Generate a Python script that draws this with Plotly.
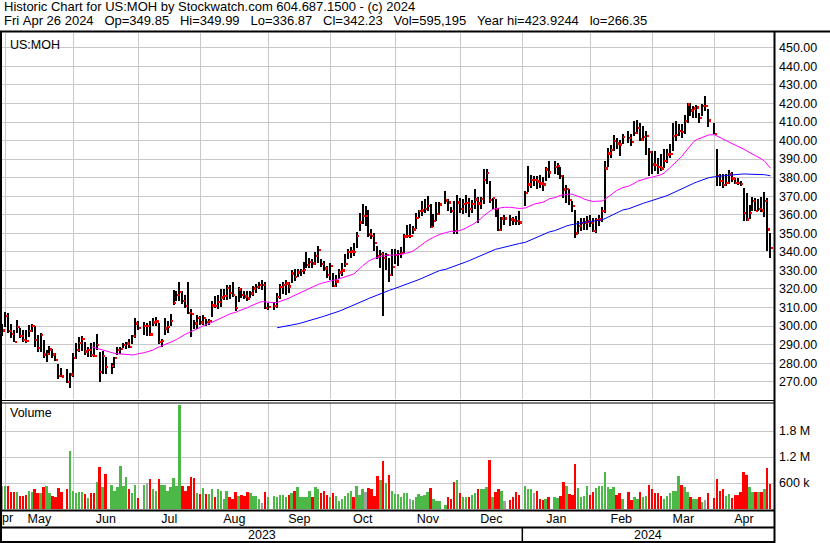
import pandas as pd
import plotly.graph_objects as go

# ---------------- data ----------------
HOLIDAYS = ["2023-05-29", "2023-06-19", "2023-07-04", "2023-09-04", "2023-11-23",
            "2023-12-25", "2024-01-01", "2024-01-15", "2024-02-19", "2024-03-29"]
FIRST_DAY = "2023-04-28"
LAST_DAY = "2024-04-26"

close = [
    297.7,
    305.6, 297.3, 295.9, 291.6, 299.7, 294.8, 292.7, 291.9, 297.3, 300.0, 292.7, 288.3, 295.2, 284.8, 285.2,
    287.4, 284.8, 281.7, 273.3, 273.0, 270.0, 274.0,
    282.9, 287.1, 291.0, 293.0, 286.5, 287.1, 284.4, 284.0, 289.8, 275.4, 284.0, 278.1, 278.6, 282.9, 287.1,
    287.6, 289.8, 290.7, 288.9, 294.8, 301.5,
    299.0, 300.0, 300.0, 295.5, 302.0, 302.5, 291.6, 292.0, 298.8, 299.7, 302.7, 312.6, 316.7, 318.5, 313.5,
    311.0, 307.2, 306.8, 301.5, 304.5,
    302.0, 304.5, 302.3, 302.7, 311.3, 311.0, 313.0, 315.5, 316.3, 320.7, 318.1, 316.7, 309.9, 319.8, 316.7,
    316.0, 315.0, 317.6, 320.3, 321.2, 322.1, 322.1, 309.9,
    310.4, 311.0, 315.8, 321.2, 322.1, 323.0, 321.5, 328.4, 326.6, 329.0, 329.7, 330.5, 332.9, 334.7, 333.8,
    338.0, 341.3, 333.7, 331.2, 327.7,
    332.6, 321.8, 324.1, 329.0, 330.1, 333.7, 340.2, 340.4, 340.2, 348.8, 356.0, 359.6, 359.6, 349.4, 348.8,
    344.9, 337.7, 339.0, 336.8, 338.6, 327.7, 331.9,
    338.6, 338.9, 339.5, 348.5, 348.8, 348.8, 352.1, 358.4, 362.0, 362.5, 363.2, 365.0, 353.5, 356.9, 360.7,
    365.6, 367.9, 366.8, 362.0, 351.2, 366.8,
    363.2, 366.1, 366.5, 363.3, 366.0, 368.3, 366.2, 368.6, 378.8, 382.7, 368.0, 369.0, 363.3, 351.8, 358.1,
    358.1, 357.6, 357.0, 356.7, 356.0,
    372.0, 376.4, 378.8, 378.8, 378.0, 377.0, 376.5, 384.5, 383.0, 385.9, 386.5, 380.9, 373.7, 374.0, 368.0,
    364.8, 350.0, 354.0, 355.8, 356.0, 356.5,
    355.8, 351.3, 357.2, 357.6, 362.1, 385.0, 393.1, 394.9, 399.8, 398.5, 398.0, 402.0, 401.6, 399.5, 404.3,
    407.0, 400.7, 402.0, 402.5, 393.9,
    387.2, 386.8, 385.8, 385.0, 389.0, 392.6, 393.0, 402.5, 403.0, 405.2, 404.7, 410.6, 419.6, 416.4, 417.5,
    418.0, 412.4, 418.7, 418.7, 411.0,
    403.8, 380.9, 378.2, 376.0, 377.1, 381.8, 379.6, 377.3, 377.1, 376.8, 361.1, 357.5, 361.1, 367.4, 362.3,
    363.2, 362.5, 367.4, 352.1, 342.23,
]

high = [
    301.1,
    307.4, 306.8, 301.1, 297.9, 303.1, 299.1, 297.9, 297.9, 300.6, 301.1, 300.2, 295.2, 296.4, 292.5, 287.1,
    289.2, 287.4, 285.6, 279.5, 277.2, 276.6, 274.8,
    285.3, 290.7, 294.3, 294.5, 291.2, 288.9, 290.7, 291.2, 295.7, 286.2, 286.5, 283.5, 280.2, 283.5, 288.5,
    288.9, 291.0, 291.2, 292.8, 295.2, 304.5,
    302.7, 302.4, 301.5, 302.7, 304.1, 305.0, 301.5, 293.0, 304.1, 302.5, 306.5, 319.4, 319.0, 323.5, 319.0,
    316.5, 323.5, 309.0, 303.0, 305.7,
    305.5, 306.0, 304.0, 304.0, 313.5, 316.0, 317.0, 320.0, 320.0, 322.0, 322.0, 323.5, 316.0, 321.0, 320.5,
    319.0, 318.9, 319.0, 321.5, 322.5, 324.0, 324.8, 324.0,
    312.5, 313.0, 318.0, 322.5, 324.0, 325.0, 324.0, 330.0, 330.5, 330.5, 331.0, 334.5, 339.7, 336.5, 336.0,
    340.0, 343.4, 335.9, 335.0, 332.3,
    334.0, 328.6, 327.7, 330.5, 334.1, 338.9, 341.6, 342.7, 344.9, 350.6, 360.7, 365.6, 364.7, 362.5, 352.1,
    349.9, 343.1, 341.0, 340.0, 339.5, 336.5, 341.3,
    341.6, 341.0, 342.7, 349.4, 354.6, 354.8, 353.9, 360.7, 362.5, 367.4, 368.6, 370.1, 365.6, 360.2, 366.8,
    367.0, 372.8, 368.6, 364.3, 367.4, 370.5,
    369.2, 368.6, 370.5, 369.2, 368.0, 373.7, 369.8, 369.8, 384.5, 384.5, 378.2, 369.2, 368.3, 363.9, 359.0,
    359.7, 359.7, 359.0, 359.5, 362.0,
    373.0, 386.3, 381.5, 381.0, 381.0, 381.5, 380.5, 386.0, 388.9, 388.9, 388.0, 386.0, 381.5, 376.0, 374.0,
    367.5, 362.5, 356.5, 358.5, 358.0, 359.5,
    360.0, 358.0, 358.5, 360.0, 364.0, 389.0, 396.0, 397.5, 402.8, 401.5, 400.5, 403.5, 405.2, 403.4, 410.3,
    411.0, 409.2, 407.9, 405.2, 396.2,
    394.4, 394.4, 390.8, 392.6, 395.3, 395.3, 398.0, 409.7, 410.3, 408.8, 408.8, 413.9, 420.5, 420.5, 418.7,
    419.0, 415.1, 419.6, 423.92, 416.9,
    409.2, 395.3, 381.8, 382.2, 381.8, 383.9, 383.2, 380.0, 379.6, 378.2, 374.6, 371.9, 365.3, 369.7, 368.9,
    368.3, 369.7, 372.5, 369.3, 349.99,
]

low = [
    294.6,
    299.6, 296.0, 293.4, 291.2, 296.1, 293.4, 291.2, 290.7, 294.3, 296.6, 288.9, 286.2, 285.9, 282.6, 280.8,
    284.4, 282.9, 281.0, 271.4, 272.3, 269.1, 266.35,
    272.7, 282.0, 286.2, 286.5, 284.4, 283.1, 283.5, 283.5, 287.1, 269.7, 274.1, 274.0, 274.1, 277.2, 284.4,
    284.9, 288.0, 287.4, 288.3, 290.1, 293.5,
    298.1, 295.2, 294.6, 294.8, 300.0, 300.0, 290.1, 288.9, 295.2, 296.5, 300.0, 311.5, 313.5, 313.5, 312.0,
    309.5, 306.3, 293.9, 298.2, 298.5,
    300.5, 300.5, 300.0, 300.5, 305.0, 309.5, 309.0, 310.5, 314.0, 314.0, 314.5, 315.5, 308.0, 313.0, 315.0,
    314.5, 313.5, 315.0, 316.0, 318.0, 320.0, 319.5, 309.0,
    308.5, 308.5, 310.0, 314.5, 317.5, 316.5, 318.0, 323.0, 324.5, 326.5, 327.0, 328.0, 331.1, 331.5, 331.5,
    333.0, 334.1, 331.9, 329.5, 325.9,
    324.7, 321.1, 321.1, 325.4, 326.8, 331.7, 336.2, 336.8, 337.7, 342.2, 351.2, 354.8, 353.9, 348.1, 346.7,
    340.4, 335.9, 331.5, 305.2, 330.1, 323.6, 327.0,
    333.5, 332.3, 336.8, 339.5, 347.6, 347.5, 349.4, 352.1, 358.4, 359.3, 361.1, 362.0, 353.0, 353.5, 356.6,
    360.0, 365.6, 362.0, 361.1, 349.4, 349.4,
    361.1, 360.5, 360.7, 359.0, 361.2, 363.0, 355.8, 363.0, 365.7, 376.4, 366.5, 363.0, 359.0, 351.3, 351.5,
    354.3, 354.0, 354.5, 354.5, 354.5,
    364.5, 372.0, 374.5, 375.5, 374.0, 374.5, 373.0, 378.0, 380.0, 382.0, 381.5, 379.5, 369.0, 366.5, 365.0,
    361.5, 347.5, 349.5, 351.5, 352.0, 352.0,
    353.5, 350.5, 350.0, 354.0, 356.0, 360.9, 386.0, 390.5, 394.5, 395.5, 391.5, 398.0, 398.9, 397.1, 402.5,
    403.4, 400.0, 400.0, 392.3, 380.9,
    381.8, 383.6, 382.2, 383.5, 385.4, 388.0, 390.8, 394.4, 399.5, 402.5, 401.6, 403.8, 409.7, 413.3, 412.4,
    412.0, 409.7, 413.3, 416.0, 407.4,
    403.4, 375.5, 375.5, 374.6, 375.5, 376.4, 377.5, 376.4, 375.9, 375.5, 356.6, 356.5, 357.5, 361.8, 361.8,
    362.0, 361.5, 358.9, 340.5, 336.87,
]

volume_k = [  # thousands of shares
    538,
    538, 554, 400, 400, 400, 323, 308, 338, 438, 400, 462, 385, 377, 515, 554,
    385, 308, 285, 492, 415, 462, 1361,
    431, 377, 400, 415, 354, 262, 377, 377, 646, 977, 515, 808, 577, 438, 515,
    1000, 554, 746, 462, 377, 569,
    262, 569, 608, 708, 462, 431, 708, 577, 569, 438, 515, 723, 538, 2420, 554,
    438, 554, 746, 723, 385,
    354, 500, 354, 354, 462, 285, 462, 438, 231, 438, 285, 246, 415, 323, 338,
    323, 415, 385, 308, 308, 246, 154, 415,
    285, 323, 285, 338, 346, 285, 346, 377, 438, 508, 285, 285, 285, 438, 300,
    508, 462, 377, 438, 346,
    300, 385, 323, 185, 246, 323, 392, 438, 285, 554, 346, 462, 415, 485, 462,
    308, 769, 692, 1131, 608, 785, 438,
    362, 354, 300, 392, 392, 231, 208, 285, 362, 308, 346, 400, 485, 231, 192,
    185, 115, 285, 231, 631, 692,
    377, 285, 300, 285, 338, 392, 462, 462, 477, 508, 1154, 285, 415, 462, 431,
    185, 208, 285, 400, 346,
    554, 462, 462, 377, 438, 231, 208, 231, 300, 285, 262, 323, 646, 554, 362,
    346, 1054, 492, 300, 323, 531,
    346, 400, 492, 554, 538, 877, 515, 462, 515, 346, 377, 246, 415, 208, 300,
    246, 415, 285, 323, 577,
    477, 377, 377, 323, 246, 323, 377, 438, 438, 762, 569, 515, 400, 300, 246,
    231, 285, 169, 208, 377,
    262, 708, 438, 462, 323, 354, 262, 346, 346, 415, 877, 785, 515, 400, 400,
    400, 400, 477, 954, 595.195,
]

price_ticks = list(range(270, 451, 10))
volume_ticks_k = [600, 1200, 1800]
volume_tick_text = ["600 k", "1.2 M", "1.8 M"]

HEADER_1 = "Historic Chart for US:MOH by Stockwatch.com 604.687.1500 - (c) 2024"
HEADER_2 = ("Fri Apr 26 2024   Op=349.85   Hi=349.99   Lo=336.87   Cl=342.23   "
            "Vol=595,195   Year hi=423.9244   lo=266.35")
SYMBOL = "US:MOH"

# ---------------- geometry helpers ----------------
W, H = 830, 543
FONT = "Arial, 'Liberation Sans', sans-serif"
GRID = "#C8C8C8"


def fx(px):
    return px / W


def fy(py):
    return 1 - py / H


# weekday slots on the x axis (holidays stay as empty slots)
slots = pd.bdate_range("2023-04-27", LAST_DAY)
hol = set(pd.to_datetime(HOLIDAYS))
trade_days = [d for d in slots if d >= pd.Timestamp(FIRST_DAY) and d not in hol]
slot_of = {d: i for i, d in enumerate(slots)}
x = [slot_of[d] for d in trade_days]

cl = pd.Series(close)
ma30 = cl.rolling(30).mean()
ma90 = cl.rolling(90).mean()

vol_colors = []
for i, c in enumerate(close):
    if i == 0 or c == close[i - 1]:
        vol_colors.append("#A0A0A0")
    elif c > close[i - 1]:
        vol_colors.append("#4CB848")
    else:
        vol_colors.append("#FF0000")

# month boundaries
month_starts, month_names = [], []
prev = None
for i, d in enumerate(slots):
    key = (d.year, d.month)
    if key != prev:
        month_starts.append(i)
        month_names.append(d.strftime("%b"))
        prev = key
n_slots = len(slots)
bounds = month_starts + [n_slots]
mids = [(bounds[k] + bounds[k + 1]) / 2 for k in range(len(month_starts))]
grid_x = month_starts[1:]
label_x = mids[1:]
label_t = month_names[1:]
jan_slot = [i for i, d in enumerate(slots) if d.year == 2024][0]

X_LO, X_HI = 0.846, 262.2
P_LO, P_HI = 260.67, 457.98
V_HI = 2458

fig = go.Figure()

# high-low lines
fig.add_trace(go.Bar(
    x=x, y=[h - l for h, l in zip(high, low)], base=low,
    width=0.5, offset=-0.25, marker=dict(color="black", line=dict(width=0)),
    xaxis="x", yaxis="y", hoverinfo="skip"))
# close ticks
fig.add_trace(go.Bar(
    x=x, y=[1.0] * len(close), base=[c - 0.5 for c in close],
    width=0.6, offset=0.25, marker=dict(color="#FF0000", line=dict(width=0)),
    xaxis="x", yaxis="y", hoverinfo="skip"))
# moving averages
fig.add_trace(go.Scatter(x=x, y=ma30, mode="lines", line=dict(color="#FF00FF", width=1),
                         xaxis="x", yaxis="y", hoverinfo="skip"))
fig.add_trace(go.Scatter(x=x, y=ma90, mode="lines", line=dict(color="#0000FF", width=1),
                         xaxis="x", yaxis="y", hoverinfo="skip"))
# volume
fig.add_trace(go.Bar(x=x, y=volume_k, width=0.66, marker=dict(color=vol_colors, line=dict(width=0)),
                     xaxis="x2", yaxis="y2", hoverinfo="skip"))

axfont = dict(family=FONT, size=12.5, color="black")

fig.update_layout(
    width=W, height=H, margin=dict(l=0, r=0, t=0, b=0, pad=0, autoexpand=False),
    paper_bgcolor="white", plot_bgcolor="white",
    showlegend=False, barmode="overlay", bargap=0,
    xaxis=dict(domain=[fx(2), fx(774)], range=[X_LO, X_HI], anchor="y", automargin=False,
               tickmode="array", tickvals=grid_x, showticklabels=False, ticks="",
               showgrid=True, gridcolor=GRID, gridwidth=1, zeroline=False, showline=False),
    yaxis=dict(domain=[fy(399), fy(33)], range=[P_LO, P_HI], anchor="x", side="right",
               automargin=False,
               tickmode="array", tickvals=price_ticks, ticktext=[f"{v:.2f}" for v in price_ticks],
               ticks="", tickfont=axfont, ticklabelstandoff=4,
               showgrid=True, gridcolor=GRID, gridwidth=1, zeroline=False, showline=False),
    xaxis2=dict(domain=[fx(2), fx(774)], range=[X_LO, X_HI], anchor="y2", matches="x",
                automargin=False,
                tickmode="array", tickvals=label_x, ticktext=label_t, ticks="",
                tickfont=axfont, showgrid=False, zeroline=False, showline=False,
                minor=dict(tickmode="array", tickvals=grid_x, showgrid=True, gridcolor=GRID,
                           gridwidth=1, ticks="")),
    yaxis2=dict(domain=[fy(509), fy(402.5)], range=[0, V_HI], anchor="x2", side="right",
                automargin=False,
                tickmode="array", tickvals=volume_ticks_k, ticktext=volume_tick_text,
                ticks="", tickfont=axfont, ticklabelstandoff=4,
                showgrid=True, gridcolor=GRID, gridwidth=1, zeroline=False, showline=False),
)

# ---------- frame lines ----------
def hline(py, x0, x1, w=1.0):
    fig.add_shape(type="line", xref="paper", yref="paper", x0=fx(x0), x1=fx(x1),
                  y0=fy(py), y1=fy(py), line=dict(color="black", width=w), layer="above")


def vline(px, y0, y1, w=1.0):
    fig.add_shape(type="line", xref="paper", yref="paper", x0=fx(px), x1=fx(px),
                  y0=fy(y0), y1=fy(y1), line=dict(color="black", width=w), layer="above")


hline(31.5, 0, 830, 2)
hline(400.5, 0, 774, 1)
hline(403.0, 0, 774, 1)
hline(510.5, 0, 774, 2)
hline(527.5, 0, 774, 2)
hline(542.0, 0, 774, 2)
vline(1.0, 31, 543, 2)
vline(774.5, 31, 543, 2)
fig.add_shape(type="line", xref="x", yref="paper", x0=jan_slot, x1=jan_slot,
              y0=fy(527.5), y1=fy(542), line=dict(color="black", width=1.5), layer="above")

# ---------- texts ----------
def text(s, px, py, size=13, anchor="left"):
    fig.add_annotation(text=s.replace(" ", "\u00a0"), xref="paper", yref="paper",
                       x=fx(px), y=fy(py), xanchor=anchor, yanchor="middle",
                       showarrow=False, font=dict(family=FONT, size=size, color="black"))


text(HEADER_1, 2, 7)
text(HEADER_2, 2, 20)
text(SYMBOL, 8, 45, 12.5)
text("Volume", 8, 413, 12.5)
text("pr", 0, 518, 12.5)
for label, a, b in [("2023", X_LO, jan_slot), ("2024", jan_slot, X_HI)]:
    fig.add_annotation(text=label, xref="x2", yref="paper", x=(a + b) / 2, y=fy(535),
                       xanchor="center", yanchor="middle", showarrow=False,
                       font=dict(family=FONT, size=12.5, color="black"))

fig.write_html("out.html", config={"displayModeBar": False},
               post_script="document.body.style.margin='0';document.body.style.overflow='hidden';")
